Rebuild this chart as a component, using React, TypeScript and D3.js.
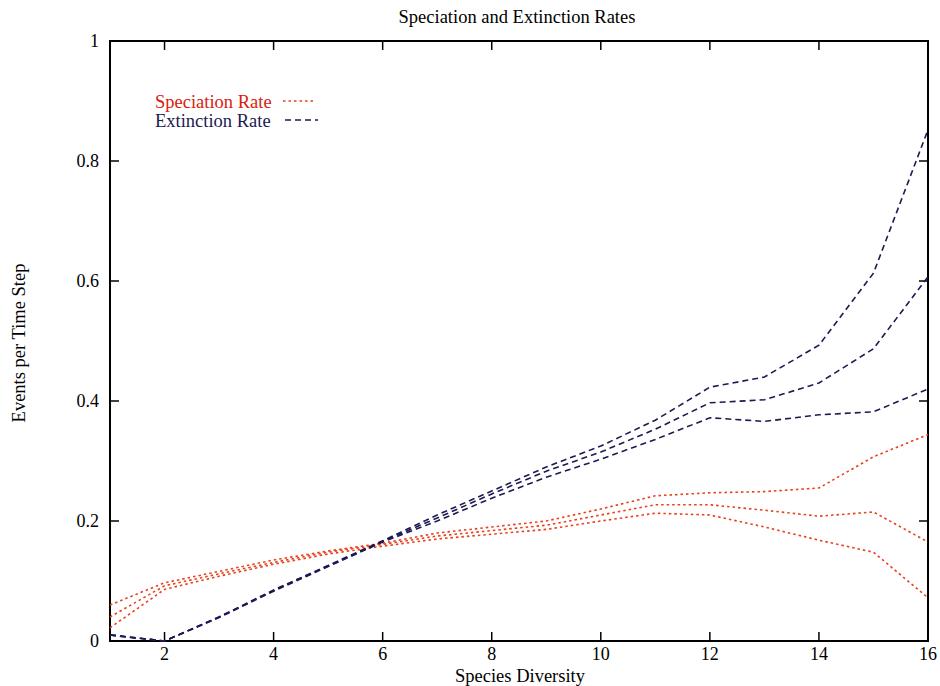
import * as d3 from 'd3';

const diversity = [1, 2, 3, 4, 5, 6, 7, 8, 9, 10, 11, 12, 13, 14, 15, 16];

const speciationRuns = [
  [0.06, 0.097, 0.116, 0.135, 0.15, 0.163, 0.18, 0.19, 0.2, 0.22, 0.242, 0.247, 0.249, 0.255, 0.307, 0.344],
  [0.04, 0.092, 0.112, 0.131, 0.148, 0.161, 0.175, 0.184, 0.193, 0.21, 0.227, 0.227, 0.218, 0.208, 0.215, 0.165],
  [0.022, 0.086, 0.108, 0.128, 0.145, 0.158, 0.17, 0.178, 0.186, 0.2, 0.213, 0.21, 0.19, 0.168, 0.148, 0.072],
];

const extinctionRuns = [
  [0.01, 0.0, 0.04, 0.085, 0.126, 0.167, 0.21, 0.25, 0.29, 0.325, 0.368, 0.423, 0.44, 0.493, 0.613, 0.852],
  [0.01, 0.0, 0.04, 0.084, 0.125, 0.166, 0.205, 0.245, 0.283, 0.315, 0.353, 0.397, 0.402, 0.43, 0.487, 0.607],
  [0.01, 0.0, 0.039, 0.083, 0.124, 0.165, 0.2, 0.238, 0.273, 0.303, 0.336, 0.372, 0.366, 0.377, 0.382, 0.42],
];

const xTicks = [2, 4, 6, 8, 10, 12, 14, 16];
const yTicks = [0, 0.2, 0.4, 0.6, 0.8, 1];

const SPEC = '#e8401c';
const EXT = '#1c1a52';
const FONT = '"Liberation Serif", "DejaVu Serif", serif';

export default function App() {
  const W = 940;
  const H = 686;
  const left = 110;
  const right = 928;
  const top = 41;
  const bottom = 641;

  const x = d3.scaleLinear().domain([1, 16]).range([left, right]);
  const y = d3.scaleLinear().domain([0, 1]).range([bottom, top]);

  const line = d3
    .line<number>()
    .x((_, i) => x(diversity[i]))
    .y((d) => y(d));

  const tick = 9;

  return (
    <svg width={W} height={H} style={{ position: 'absolute', left: 0, top: 0, background: '#fff' }}>
      <text x={517} y={23} textAnchor="middle" fontFamily={FONT} fontSize={18.5}>
        Speciation and Extinction Rates
      </text>

      {/* frame */}
      <rect x={left} y={top} width={right - left} height={bottom - top} fill="none" stroke="#000" strokeWidth={2} />

      {/* x ticks */}
      {xTicks.map((t) => (
        <g key={'x' + t}>
          <line x1={x(t)} x2={x(t)} y1={bottom} y2={bottom - tick} stroke="#000" strokeWidth={1.5} />
          <line x1={x(t)} x2={x(t)} y1={top} y2={top + tick} stroke="#000" strokeWidth={1.5} />
          <text x={x(t)} y={bottom + 19} textAnchor="middle" fontFamily={FONT} fontSize={18}>
            {t}
          </text>
        </g>
      ))}

      {/* y ticks */}
      {yTicks.map((t) => (
        <g key={'y' + t}>
          <line x1={left} x2={left + tick} y1={y(t)} y2={y(t)} stroke="#000" strokeWidth={1.5} />
          <line x1={right} x2={right - tick} y1={y(t)} y2={y(t)} stroke="#000" strokeWidth={1.5} />
          <text x={left - 11} y={y(t) + 6} textAnchor="end" fontFamily={FONT} fontSize={18}>
            {t}
          </text>
        </g>
      ))}

      <text x={520} y={682} textAnchor="middle" fontFamily={FONT} fontSize={18.5}>
        Species Diversity
      </text>
      <text
        transform={`translate(25,${343}) rotate(-90)`}
        textAnchor="middle"
        fontFamily={FONT}
        fontSize={18.5}
      >
        Events per Time Step
      </text>

      {/* series */}
      {speciationRuns.map((run, i) => (
        <path key={'s' + i} d={line(run) || ''} fill="none" stroke={SPEC} strokeWidth={1.6} strokeDasharray="2.5,3" />
      ))}
      {extinctionRuns.map((run, i) => (
        <path key={'e' + i} d={line(run) || ''} fill="none" stroke={EXT} strokeWidth={1.6} strokeDasharray="6,4" />
      ))}

      {/* legend */}
      <text x={155} y={108} fontFamily={FONT} fontSize={18.5} fill="#d8200e">
        Speciation Rate
      </text>
      <line x1={283} x2={314} y1={101} y2={101} stroke={SPEC} strokeWidth={1.6} strokeDasharray="2.5,3" />
      <text x={155} y={127} fontFamily={FONT} fontSize={18.5} fill={EXT}>
        Extinction Rate
      </text>
      <line x1={285} x2={318} y1={120} y2={120} stroke={EXT} strokeWidth={1.6} strokeDasharray="6,4" />
    </svg>
  );
}
